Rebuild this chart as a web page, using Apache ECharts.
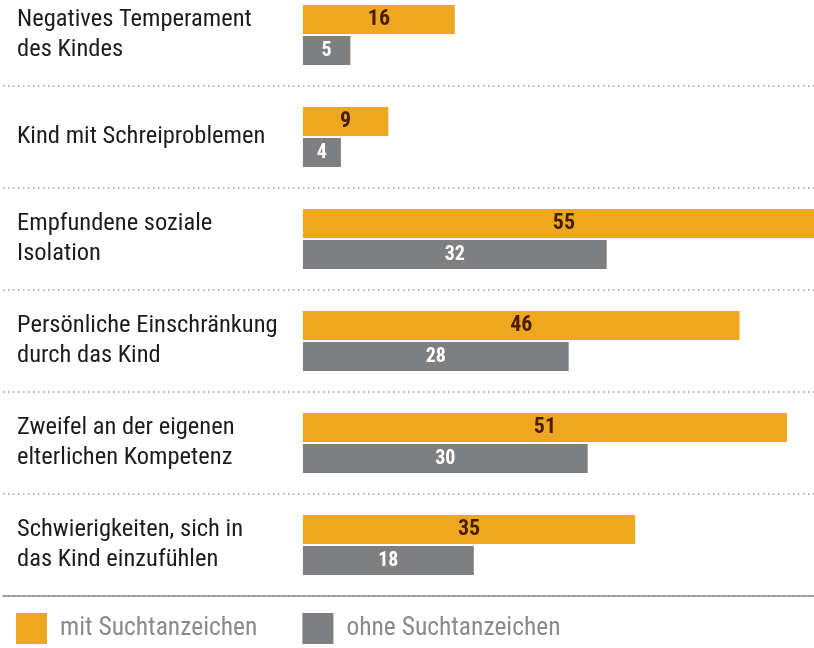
<!DOCTYPE html>
<html>
<head>
<meta charset="utf-8">
<script src="https://cdn.jsdelivr.net/npm/echarts@6/dist/echarts.min.js"></script>
<style>
  html, body { margin: 0; padding: 0; background: #fff; }
  #chart { width: 814px; height: 648px; }
</style>
</head>
<body>
<div id="chart"></div>
<script>
var categories = [
    'Negatives Temperament\ndes Kindes',
    'Kind mit Schreiproblemen',
    'Empfundene soziale\nIsolation',
    'Persönliche Einschränkung\ndurch das Kind',
    'Zweifel an der eigenen\nelterlichen Kompetenz',
    'Schwierigkeiten, sich in\ndas Kind einzufühlen'
];
var seriesNames = ['mit Suchtanzeichen', 'ohne Suchtanzeichen'];
var mitSucht = [16, 9, 55, 46, 51, 35];
var ohneSucht = [5, 4, 32, 28, 30, 18];

var font = '"Roboto Condensed", "Liberation Sans", sans-serif';

var chart = echarts.init(document.getElementById('chart'));
chart.setOption({
    animation: false,
    grid: {
        left: 3,
        right: -11,
        top: -16,
        bottom: 52,
        outerBoundsMode: 'none'
    },
    legend: {
        data: seriesNames,
        left: 16,
        top: 613,
        padding: 0,
        icon: 'rect',
        itemWidth: 31,
        itemHeight: 31,
        itemGap: 45,
        textStyle: {
            fontFamily: font,
            fontSize: 25.5,
            color: '#8a8a8a',
            padding: [7, 0, 0, 8]
        }
    },
    xAxis: {
        type: 'value',
        // room on the left for the labels, bars start at 0
        min: -31.6,
        max: 55,
        axisLabel: { show: false },
        axisTick: { show: false },
        splitLine: { show: false },
        axisLine: {
            show: true,
            onZero: false,
            lineStyle: { color: '#8c8c8c', width: 1.5 }
        }
    },
    yAxis: {
        type: 'category',
        inverse: true,
        data: categories,
        axisTick: { show: false },
        axisLine: { show: false, onZero: false },
        axisLabel: {
            inside: true,
            margin: 14,
            align: 'left',
            fontFamily: font,
            fontSize: 24.5,
            lineHeight: 30,
            color: '#1c1c1c'
        },
        splitLine: {
            show: true,
            lineStyle: {
                color: '#9a9a9a',
                width: 1.5,
                type: [1.5, 3.5]
            }
        }
    },
    series: [
        {
            name: seriesNames[0],
            type: 'bar',
            data: mitSucht,
            barWidth: 29,
            barGap: '7%',
            itemStyle: { color: '#EDA820' },
            label: {
                show: true,
                position: 'inside',
                fontFamily: font,
                fontSize: 22,
                fontWeight: 'bold',
                color: '#4a1c0c'
            }
        },
        {
            name: seriesNames[1],
            type: 'bar',
            data: ohneSucht,
            barWidth: 29,
            itemStyle: { color: '#7E7F81' },
            label: {
                show: true,
                position: 'inside',
                fontFamily: font,
                fontSize: 20,
                fontWeight: 'bold',
                color: '#fff'
            }
        }
    ]
});
</script>
</body>
</html>
